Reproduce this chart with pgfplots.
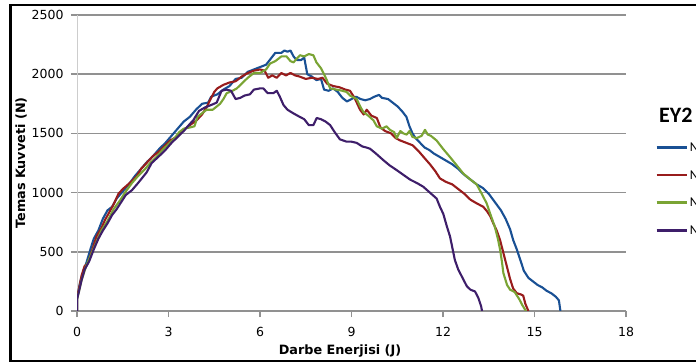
\documentclass[border=0pt]{standalone}
\usepackage{pgfplots}
\pgfplotsset{compat=1.18}
\usepackage{fontspec}
\setmainfont{DejaVu Sans}
\newfontfamily\carlito{Carlito}

\definecolor{serA}{RGB}{25,80,148}
\definecolor{serB}{RGB}{152,28,28}
\definecolor{serC}{RGB}{122,164,52}
\definecolor{serD}{RGB}{62,30,106}
\definecolor{gridgray}{RGB}{145,145,145}
\definecolor{yaxgray}{RGB}{205,205,205}

\begin{document}
\begin{tikzpicture}
\useasboundingbox (0bp,0bp) rectangle (696bp,363bp);
\clip (0bp,0bp) rectangle (696bp,363bp);
\fill[white] (0bp,0bp) rectangle (696bp,363bp);
\draw[line width=2.3bp] (10.5bp,2bp) rectangle (760bp,357.7bp);

\begin{axis}[
  scale only axis,
  width=549bp, height=296bp,
  at={(77bp,52bp)}, anchor=south west,
  xmin=0, xmax=18, ymin=0, ymax=2500,
  xtick={0,3,...,18}, ytick={0,500,...,2500},
  axis x line*=bottom, axis y line*=left,
  x axis line style={draw=gridgray, line width=1.4bp, -},
  y axis line style={draw=yaxgray, line width=1bp, -},
  tick align=outside,
  major tick length=6bp,
  xtick style={draw=gridgray, line width=1.2bp},
  ytick style={draw=gridgray, line width=1.6bp},
  ymajorgrids,
  major grid style={draw=gridgray, line width=1.6bp},
  /pgf/number format/assume math mode=true,
  /pgf/number format/1000 sep={},
  tick label style={font=\fontsize{12.5bp}{14bp}\selectfont, text=black},
  xticklabel style={yshift=-7bp},
  yticklabel style={xshift=-4bp},
  xlabel={Darbe Enerjisi (J)},
  ylabel={Temas Kuvveti (N)},
  every axis x label/.style={at={(axis description cs:0.479,-0.1463)}, anchor=base,
    font=\bfseries\fontsize{12.8bp}{14bp}\selectfont},
  every axis y label/.style={at={(axis description cs:-0.102,0.5)}, rotate=90, anchor=center,
    font=\bfseries\fontsize{12.8bp}{14bp}\selectfont},
  legend style={at={(axis description cs:1.05282,0.5689)}, anchor=north west,
    draw=none, fill=none, inner sep=0pt, row sep=19bp, column sep=2bp,
    nodes={inner sep=0pt, text height=8.7bp, text depth=0bp, anchor=base west,
      font=\carlito\fontsize{13.5bp}{15bp}\selectfont}},
  legend cell align=left,
  legend image code/.code={\draw[#1, line width=2.6bp] (0bp,4.3bp) -- (30bp,4.3bp);},
  every axis plot/.append style={line width=2.1bp, line join=round},
]
% series 1
\addplot[serA] coordinates {
(0,0) (0,100) (0.05,170) (0.1,240) (0.2,330) (0.3,400) (0.45,530) (0.55,610)
(0.7,680) (0.85,780) (1.0,850) (1.15,880) (1.3,950) (1.5,1010) (1.7,1070)
(1.9,1140) (2.1,1200) (2.3,1260) (2.5,1310) (2.7,1370) (2.9,1420) (3.1,1480)
(3.3,1540) (3.5,1600) (3.7,1640) (3.9,1700) (4.1,1750) (4.3,1760) (4.4,1810)
(4.6,1830) (4.8,1870) (5.0,1900) (5.2,1960) (5.4,1970) (5.6,2020) (5.8,2040)
(6.0,2060) (6.2,2080) (6.35,2130) (6.5,2180) (6.7,2180) (6.8,2200) (6.9,2190)
(7.0,2200) (7.1,2150) (7.2,2120) (7.35,2120) (7.45,2140) (7.55,2000) (7.7,1980)
(7.85,1950) (8.0,1960) (8.1,1870) (8.25,1860) (8.4,1880) (8.55,1850) (8.7,1800)
(8.85,1770) (9.0,1790) (9.15,1810) (9.3,1790) (9.45,1780) (9.6,1790) (9.75,1810)
(9.9,1825) (10.0,1800) (10.2,1790) (10.35,1760) (10.5,1730) (10.65,1690)
(10.8,1640) (10.9,1560) (11.0,1500) (11.1,1460) (11.25,1420) (11.4,1380)
(11.55,1360) (11.7,1330) (11.9,1300) (12.1,1270) (12.3,1240) (12.5,1200)
(12.7,1150) (12.9,1110) (13.1,1070) (13.3,1040) (13.5,990) (13.7,920) (13.9,850)
(14.05,780) (14.2,690) (14.3,600) (14.42,520) (14.55,420) (14.65,340) (14.8,280)
(14.95,250) (15.1,220) (15.25,200) (15.4,170) (15.55,150) (15.7,120) (15.8,90)
(15.85,0)
};
\addlegendentry{N1}
% series 2
\addplot[serB] coordinates {
(0,0) (0,120) (0.05,170) (0.15,300) (0.25,380) (0.35,400) (0.48,500) (0.64,630)
(0.8,700) (0.92,770) (1.05,830) (1.2,900) (1.36,990) (1.5,1030) (1.68,1070)
(1.85,1110) (1.96,1140) (2.1,1200) (2.28,1250) (2.5,1310) (2.7,1350) (2.9,1400)
(3.05,1440) (3.27,1470) (3.5,1530) (3.7,1570) (3.92,1610) (4.1,1660) (4.25,1720)
(4.36,1780) (4.5,1850) (4.6,1880) (4.8,1910) (5.0,1930) (5.2,1940) (5.4,1980)
(5.6,2010) (5.8,2030) (6.0,2040) (6.15,2030) (6.27,1970) (6.4,1990) (6.55,1970)
(6.7,2010) (6.85,1990) (7.0,2010) (7.15,1990) (7.3,1980) (7.5,1960) (7.7,1970)
(7.9,1960) (8.05,1970) (8.2,1920) (8.4,1900) (8.6,1890) (8.8,1870) (8.95,1860)
(9.1,1800) (9.28,1700) (9.4,1660) (9.5,1700) (9.65,1650) (9.83,1630) (9.95,1550)
(10.1,1520) (10.3,1500) (10.45,1460) (10.6,1440) (10.8,1420) (11.0,1400)
(11.2,1350) (11.4,1290) (11.57,1240) (11.75,1180) (11.9,1120) (12.1,1090)
(12.3,1070) (12.5,1030) (12.7,990) (12.9,940) (13.1,910) (13.32,880) (13.45,840)
(13.55,800) (13.65,740) (13.76,680) (13.87,600) (13.98,490) (14.1,370) (14.2,270)
(14.3,190) (14.42,150) (14.55,140) (14.63,130) (14.7,60) (14.8,0)
};
\addlegendentry{N2}
% series 3
\addplot[serC] coordinates {
(0,0) (0,100) (0.05,150) (0.15,260) (0.3,380) (0.5,500) (0.65,590) (0.8,680)
(1.0,760) (1.2,860) (1.4,930) (1.6,1010) (1.8,1080) (2.0,1140) (2.2,1190)
(2.4,1250) (2.6,1300) (2.8,1360) (3.0,1410) (3.2,1460) (3.35,1510) (3.5,1540)
(3.7,1550) (3.85,1560) (3.95,1640) (4.1,1670) (4.25,1700) (4.45,1700) (4.69,1750)
(4.8,1790) (4.91,1840) (5.1,1860) (5.24,1880) (5.4,1920) (5.6,1970) (5.8,2010)
(6.0,2010) (6.2,2040) (6.33,2090) (6.5,2110) (6.7,2150) (6.87,2150) (7.0,2110)
(7.1,2100) (7.2,2130) (7.31,2160) (7.45,2150) (7.6,2170) (7.75,2160) (7.85,2100)
(8.0,2050) (8.1,2000) (8.19,1950) (8.3,1880) (8.5,1870) (8.7,1860) (8.84,1850)
(8.95,1820) (9.17,1790) (9.3,1720) (9.39,1680) (9.55,1650) (9.72,1610)
(9.83,1560) (10.0,1540) (10.15,1560) (10.26,1530) (10.4,1510) (10.48,1460)
(10.6,1520) (10.7,1500) (10.81,1490) (10.9,1520) (11.0,1470) (11.14,1460)
(11.3,1480) (11.41,1530) (11.5,1490) (11.6,1480) (11.79,1440) (12.0,1370)
(12.23,1300) (12.45,1230) (12.67,1160) (12.9,1110) (13.1,1070) (13.25,1000)
(13.43,910) (13.55,820) (13.7,710) (13.8,610) (13.87,520) (13.93,420)
(13.98,320) (14.1,220) (14.2,180) (14.35,160) (14.5,100) (14.6,50) (14.72,0)
};
\addlegendentry{N3}
% series 4
\addplot[serD] coordinates {
(0,0) (0,100) (0.05,150) (0.15,260) (0.25,350) (0.4,420) (0.55,520) (0.7,610)
(0.85,680) (1.0,740) (1.15,810) (1.3,860) (1.45,920) (1.6,980) (1.8,1020)
(2.0,1080) (2.28,1170) (2.45,1250) (2.7,1310) (2.9,1360) (3.1,1420) (3.3,1470)
(3.5,1520) (3.7,1580) (3.81,1610) (4.0,1690) (4.2,1720) (4.4,1740) (4.58,1760)
(4.74,1860) (4.9,1870) (5.05,1860) (5.2,1790) (5.35,1800) (5.5,1820) (5.67,1830)
(5.8,1870) (6.0,1880) (6.11,1880) (6.25,1840) (6.44,1840) (6.55,1860) (6.65,1810)
(6.77,1740) (6.9,1700) (7.09,1670) (7.3,1640) (7.45,1620) (7.6,1570) (7.75,1570)
(7.86,1630) (8.0,1620) (8.15,1600) (8.3,1570) (8.45,1510) (8.62,1450) (8.84,1430)
(9.0,1430) (9.17,1420) (9.35,1390) (9.5,1380) (9.61,1370) (9.8,1330) (10.04,1275)
(10.25,1230) (10.48,1190) (10.7,1150) (10.92,1110) (11.15,1080) (11.35,1050)
(11.57,1000) (11.79,950) (11.9,880) (12.01,820) (12.12,720) (12.23,630)
(12.39,430) (12.5,350) (12.6,300) (12.78,210) (12.9,180) (13.05,165) (13.16,110)
(13.25,40) (13.28,0)
};
\addlegendentry{N4}
\end{axis}

\node[anchor=base west, inner sep=0pt, font=\carlito\bfseries\fontsize{22bp}{24bp}\selectfont]
  at (659bp,240bp) {EY2};
\end{tikzpicture}
\end{document}
